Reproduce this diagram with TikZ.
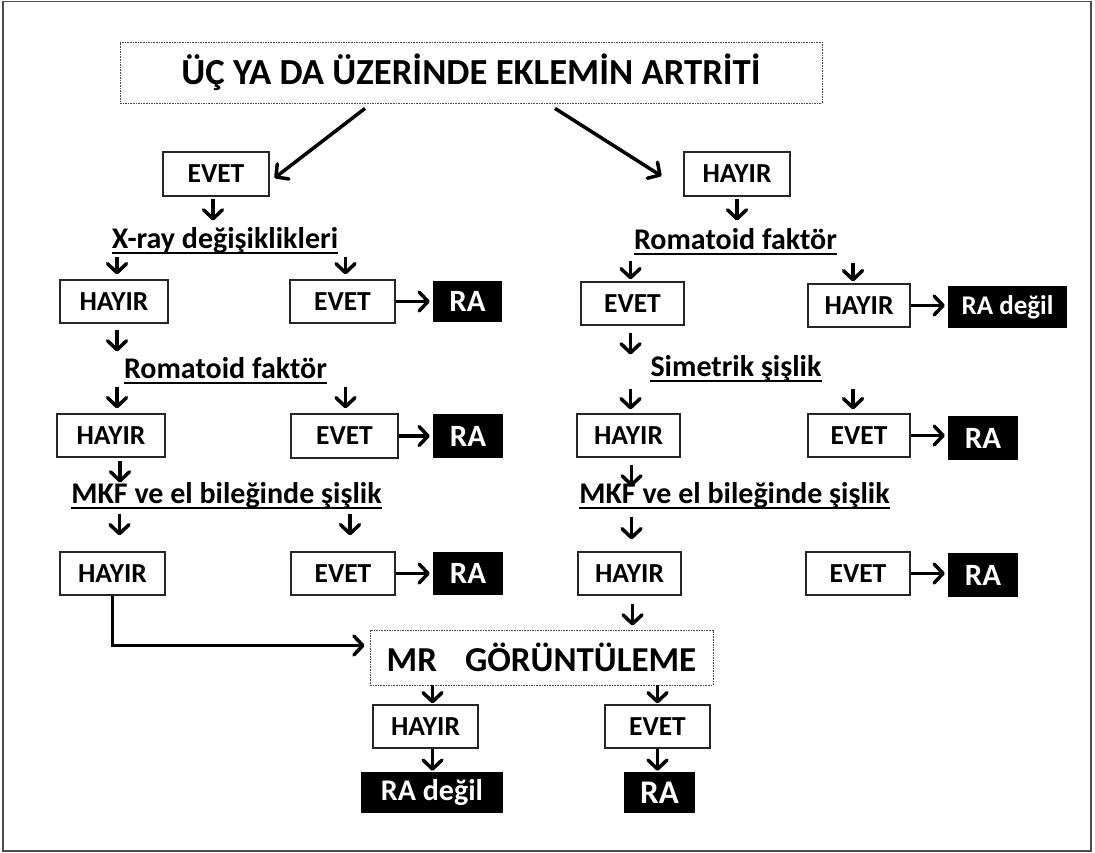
\documentclass[tikz,border=0pt]{standalone}
\usepackage{fontspec}
\setmainfont{Carlito}
\usetikzlibrary{arrows.meta}
\begin{document}
\begin{tikzpicture}[x=1pt,y=-1pt,
  box/.style={draw=black!85,line width=1.1pt,minimum width=#1,minimum height=43pt,inner sep=0pt,font=\fontsize{27.5}{27.5}\selectfont\bfseries},
  box/.default=105pt,
  blk/.style={fill=black,text=white,minimum width=#1,minimum height=42pt,inner sep=0pt,font=\fontsize{31}{31}\selectfont\bfseries},
  blk/.default=70pt,
  blkw/.style={blk=#1,font=\fontsize{27}{27}\selectfont\bfseries},
  lbl/.style={inner sep=0pt,font=\fontsize{30}{30}\selectfont\bfseries},
  uline/.style={line width=2pt},
  arr/.style={line width=3.5pt,-{Straight Barb[length=9pt,width=19pt,line width=3.5pt,round]}},
  dbox/.style={draw=black!70,line width=0.8pt,dash pattern=on 1.6pt off 1pt,inner sep=0pt}
]
\useasboundingbox (0,0) rectangle (1095,853);
\draw[line width=1.6pt,draw=black!70] (3,1.5) rectangle (1091,851);

% title
\node[dbox,minimum width=702pt,minimum height=61pt,font=\fontsize{36.7}{36.7}\selectfont\bfseries] (title) at (471,72.5) {ÜÇ YA DA ÜZERİNDE EKLEMİN ARTRİTİ};
\node[box=106pt,minimum height=44pt] (evetA) at (216,174) {EVET};
\node[box=106pt,minimum height=44pt] (hayirA) at (737,174) {HAYIR};
\draw[arr] ([xshift=-106pt,yshift=-5pt]title.south) -- ([xshift=5pt,yshift=-4pt]evetA.east);
\draw[arr] ([xshift=84pt,yshift=-5pt]title.south) -- ([xshift=-22pt,yshift=-2pt]hayirA.west);

% ---------- left column ----------
\draw[arr] ([xshift=-3pt,yshift=-2pt]evetA.south) -- ++(0,22);
\node[lbl,anchor=base] (xray) at (225,248) {X-ray değişiklikleri};
\draw[uline] ([yshift=-5pt]xray.base west) -- ([yshift=-5pt]xray.base east);

\node[box=108pt] (hayirL1) at (114,301.5) {HAYIR};
\node[box=105pt] (evetL1) at (342.5,301.5) {EVET};
\node[blk=69pt,minimum height=41pt] (raL1) at (467.5,301.5) {RA};
\draw[arr,shorten >=5pt] ([xshift=3pt,yshift=22pt]hayirL1.north) -- ([xshift=3pt]hayirL1.north);
\draw[arr,shorten >=5pt] ([xshift=3pt,yshift=22pt]evetL1.north) -- ([xshift=3pt]evetL1.north);
\draw[arr,shorten >=3pt] (evetL1.east) -- (evetL1.east -| raL1.west);

\draw[arr] ([xshift=3pt,yshift=-6pt]hayirL1.south) -- ++(0,22);
\node[lbl,anchor=base] (romL) at (225.5,378) {Romatoid faktör};
\draw[uline] ([yshift=-5pt]romL.base west) -- ([yshift=-5pt]romL.base east);

\node[box=108pt] (hayirL2) at (111,435.5) {HAYIR};
\node[box=107pt,minimum height=44pt] (evetL2) at (344.5,436) {EVET};
\node[blk=70pt,minimum height=44pt] (raL2) at (468,436) {RA};
\draw[arr,shorten >=5pt] ([xshift=6pt,yshift=26pt]hayirL2.north) -- ([xshift=6pt]hayirL2.north);
\draw[arr,shorten >=5pt] ([xshift=1pt,yshift=26pt]evetL2.north) -- ([xshift=1pt]evetL2.north);
\draw[arr,shorten >=3pt] (evetL2.east) -- (evetL2.east -| raL2.west);

\draw[arr] ([xshift=9pt,yshift=-3pt]hayirL2.south) -- ++(0,22);
\node[lbl,anchor=base] (mkfL) at (226.5,503) {MKF ve el bileğinde şişlik};
\draw[uline] ([yshift=-5pt]mkfL.base west) -- ([yshift=-5pt]mkfL.base east);

\node[box=105pt] (hayirL3) at (112.5,573.5) {HAYIR};
\node[box=104pt] (evetL3) at (343,573.5) {EVET};
\node[blk=70pt,minimum height=43pt] (raL3) at (468,573.5) {RA};
\draw[arr,shorten >=16pt] ([xshift=7pt,yshift=37pt]hayirL3.north) -- ([xshift=7pt]hayirL3.north);
\draw[arr,shorten >=16pt] ([xshift=7pt,yshift=37pt]evetL3.north) -- ([xshift=7pt]evetL3.north);
\draw[arr,shorten >=3pt] (evetL3.east) -- (evetL3.east -| raL3.west);

% ---------- right column ----------
\draw[arr] ([yshift=-2pt]hayirA.south) -- ++(0,22);
\node[lbl,anchor=base] (romR) at (735.5,249) {Romatoid faktör};
\draw[uline] ([yshift=-5pt]romR.base west) -- ([yshift=-5pt]romR.base east);

\node[box=103pt] (evetR1) at (632.5,303.5) {EVET};
\node[box=102pt] (hayirR1) at (859,305.5) {HAYIR};
\node[blkw=119pt] (ranR1) at (1007.5,307) {RA değil};
\draw[arr,shorten >=2pt] ([xshift=-2pt,yshift=20pt]evetR1.north) -- ([xshift=-2pt]evetR1.north);
\draw[arr,shorten >=2pt] ([xshift=-6pt,yshift=20pt]hayirR1.north) -- ([xshift=-6pt]hayirR1.north);
\draw[arr,shorten >=3pt] (hayirR1.east) -- (hayirR1.east -| ranR1.west);

\draw[arr] ([xshift=-2pt,yshift=-7pt]evetR1.south) -- ++(0,22);
\node[lbl,anchor=base] (simR) at (736,376) {Simetrik şişlik};
\draw[uline] ([yshift=-5pt]simR.base west) -- ([yshift=-5pt]simR.base east);

\node[box=103pt] (hayirR2) at (628.5,435.5) {HAYIR};
\node[box=102pt] (evetR2) at (859,435.5) {EVET};
\node[blk=70pt,minimum height=44pt] (raR2) at (983,438) {RA};
\draw[arr,shorten >=4pt] ([xshift=2pt,yshift=24pt]hayirR2.north) -- ([xshift=2pt]hayirR2.north);
\draw[arr,shorten >=4pt] ([xshift=-6pt,yshift=24pt]evetR2.north) -- ([xshift=-6pt]evetR2.north);
\draw[arr,shorten >=3pt] (evetR2.east) -- (evetR2.east -| raR2.west);

\draw[arr] ([xshift=3pt,yshift=-7pt]hayirR2.south) -- ++(0,22);
\node[lbl,anchor=base] (mkfR) at (734.5,503) {MKF ve el bileğinde şişlik};
\draw[uline] ([yshift=-5pt]mkfR.base west) -- ([yshift=-5pt]mkfR.base east);

\node[box=103pt] (hayirR3) at (629.5,573.5) {HAYIR};
\node[box=104pt] (evetR3) at (858,573.5) {EVET};
\node[blk=70pt,minimum height=44pt] (raR3) at (983,575) {RA};
\draw[arr,shorten >=12pt] ([xshift=2pt,yshift=34pt]hayirR3.north) -- ([xshift=2pt]hayirR3.north);
\draw[arr,shorten >=3pt] (evetR3.east) -- (evetR3.east -| raR3.west);

% ---------- MR ----------
\node[dbox,minimum width=343pt,minimum height=55pt,font=\fontsize{35}{35}\selectfont\bfseries] (mr) at (541.5,657.5) {MR\hspace{0.8em}GÖRÜNTÜLEME};
\draw[arr,shorten <=8pt,shorten >=4pt] ([xshift=3pt]hayirR3.south) -- ([xshift=3pt]hayirR3.south |- mr.north);
\draw[arr,shorten >=5pt] (hayirL3.south) |- ([yshift=12pt]mr.west);

\node[box=105pt] (hayirM) at (425.5,726.5) {HAYIR};
\node[box=105pt] (evetM) at (657.5,726.5) {EVET};
\node[blkw=142pt,minimum height=41pt,font=\fontsize{30}{30}\selectfont\bfseries] (ranM) at (432,792.5) {RA değil};
\node[blk=71pt,minimum height=41pt,font=\fontsize{33}{33}\selectfont\bfseries] (raM) at (659.5,792.5) {RA};
\draw[arr,shorten >=1pt] ([xshift=7pt]mr.south -| hayirM.north) -- ([xshift=7pt]hayirM.north);
\draw[arr,shorten >=1pt] (mr.south -| evetM.north) -- (evetM.north);
\draw[arr,shorten >=1pt] ([xshift=7pt]hayirM.south) -- ([xshift=7pt]hayirM.south |- ranM.north);
\draw[arr,shorten >=1pt] (evetM.south) -- (evetM.south |- raM.north);
\end{tikzpicture}
\end{document}
